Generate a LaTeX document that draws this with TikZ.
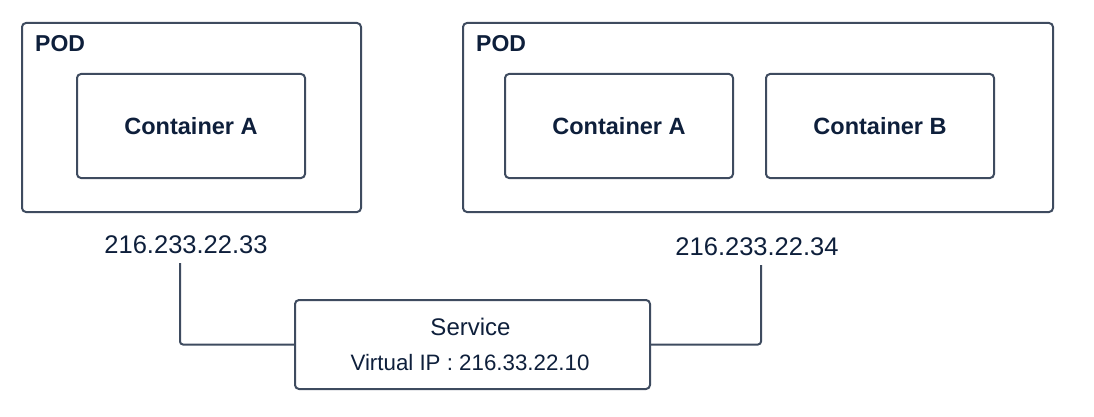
\documentclass[tikz,border=0pt]{standalone}
\usepackage{fontspec}
\setmainfont{Liberation Sans}
\usepackage{tikz}
\usetikzlibrary{positioning}
\definecolor{ink}{HTML}{0E1F3B}
\definecolor{edge}{HTML}{3E4B5F}
\tikzset{%
    box/.style={%
        draw=edge, line width=2pt, rounded corners=4pt, inner sep=0pt
    },
    podbox/.style={%
        box, minimum width=339pt, minimum height=189pt
    },
    conbox/.style={%
        box, minimum width=228pt, minimum height=104pt,
        font=\fontsize{23.5}{28}\selectfont\bfseries, text=ink
    },
    title/.style={%
        anchor=base west, inner sep=0pt, text=ink,
        font=\fontsize{23}{28}\selectfont\bfseries
    },
    addr/.style={%
        anchor=base, inner sep=0pt, text=ink,
        font=\fontsize{25.5}{30}\selectfont
    },
    wire/.style={%
        draw=edge, line width=2pt, rounded corners=3pt
    }
}
\begin{document}
\begin{tikzpicture}[x=1pt, y=-1pt]
    \useasboundingbox (0,0) rectangle (1094,417);

    % pods
    \node[podbox] (pod1) at (191.5,117.5) {};
    \node[podbox, minimum width=590pt] (pod2) at (758,117.5) {};
    \node[title] (podlab1) at (35,52) {POD};
    \node[title] (podlab2) at (476,52) {POD};

    % containers
    \node[conbox] (conA1) at (191,126) {Container A};
    \node[conbox] (conA2) at (619,126) {Container A};
    \node[conbox] (conB) at (880,126) {Container B};

    % addresses
    \node[addr] (ip1) at (186,253) {216.233.22.33};
    \node[addr] (ip2) at (757,255) {216.233.22.34};
    \coordinate (tap1) at (180,263);
    \coordinate (tap2) at (761,265);

    % service
    \node[box, minimum width=355pt, minimum height=89pt] (svc) at (472.5,344.5) {};
    \node[addr, font=\fontsize{24}{28}\selectfont] (svclab) at (470.5,335) {Service};
    \node[addr, font=\fontsize{22.3}{28}\selectfont] (vip) at (470,370) {Virtual IP : 216.33.22.10};

    \draw[wire] (tap1) |- (svc.west);
    \draw[wire] (tap2) |- (svc.east);
\end{tikzpicture}
\end{document}
